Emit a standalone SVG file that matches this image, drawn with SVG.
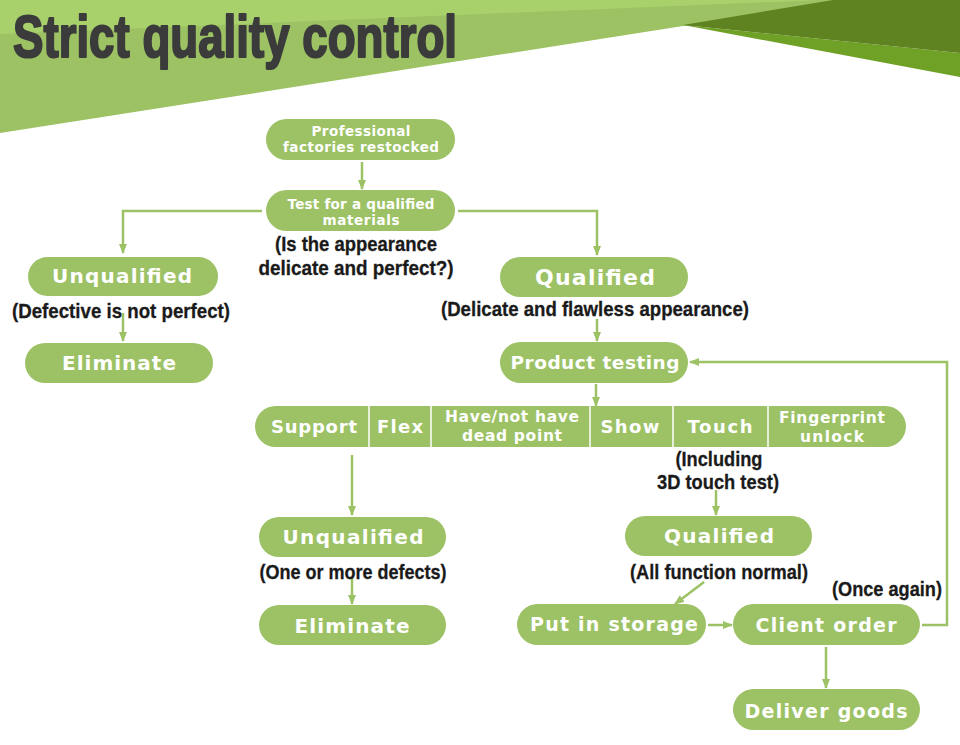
<svg xmlns="http://www.w3.org/2000/svg" width="960" height="745" viewBox="0 0 960 745">
<defs>
<style>
.pill{fill:#9cc265}
.wt{font-family:"DejaVu Sans","Liberation Sans",sans-serif;font-weight:bold;fill:#fff;text-anchor:middle}
.bk{font-family:"Liberation Sans",sans-serif;font-weight:bold;fill:#1a1a1a;text-anchor:middle;font-size:21px;stroke:#1a1a1a;stroke-width:0.3}
.ln{fill:none;stroke:#9cc265;stroke-width:2.5}
.sep{stroke:#ffffff;stroke-width:1.5}
</style>
<marker id="ah" viewBox="0 0 10 8" refX="9" refY="4" markerWidth="4" markerHeight="3.4" markerUnits="strokeWidth" orient="auto">
<path d="M0,0 L10,4 L0,8 Z" fill="#9cc265"/>
</marker>
</defs>
<rect width="960" height="745" fill="#ffffff"/>
<g id="header">
<polygon points="0,0 960,0 960,20 683,26 0,133" fill="#9cc263"/>
<polygon points="0,0 820,0 0,34" fill="#a8d16c"/>
<polygon points="683,25 960,53 960,77" fill="#6fa127"/>
<polygon points="683,25 833,0 960,0 960,53" fill="#5e8320"/>
<text x="13" y="57" font-family="Liberation Sans,sans-serif" font-weight="bold" font-size="60" fill="#3b3b3b" stroke="#3b3b3b" stroke-width="2.2" stroke-linejoin="round" textLength="444" lengthAdjust="spacingAndGlyphs">Strict quality control</text>
</g>
<g id="connectors">
<line class="ln" x1="362" y1="162" x2="362" y2="189" marker-end="url(#ah)"/>
<polyline class="ln" points="262,211 123,211 123,253" marker-end="url(#ah)"/>
<polyline class="ln" points="458,211 597,211 597,255" marker-end="url(#ah)"/>
<line class="ln" x1="123" y1="313" x2="123" y2="341" marker-end="url(#ah)"/>
<line class="ln" x1="597" y1="319" x2="597" y2="341" marker-end="url(#ah)"/>
<line class="ln" x1="596" y1="384" x2="596" y2="406" marker-end="url(#ah)"/>
<line class="ln" x1="352" y1="455" x2="352" y2="515" marker-end="url(#ah)"/>
<line class="ln" x1="352" y1="578" x2="352" y2="604" marker-end="url(#ah)"/>
<line class="ln" x1="716" y1="490" x2="716" y2="515" marker-end="url(#ah)"/>
<line class="ln" x1="704" y1="582" x2="675" y2="604" marker-end="url(#ah)"/>
<line class="ln" x1="708" y1="625" x2="732" y2="625" marker-end="url(#ah)"/>
<line class="ln" x1="826" y1="647" x2="826" y2="688" marker-end="url(#ah)"/>
<polyline class="ln" points="922,625 947,625 947,362 690,362" marker-end="url(#ah)"/>
</g>
<g id="n-restocked">
<rect class="pill" x="266" y="119" width="189" height="41" rx="20.5"/>
<text class="wt" x="361" y="136" font-size="13.5" textLength="99">Professional</text>
<text class="wt" x="361" y="152" font-size="13.5" textLength="156">factories restocked</text>
</g>
<g id="n-test">
<rect class="pill" x="266" y="190" width="189" height="41" rx="20.5"/>
<text class="wt" x="361" y="209" font-size="13.5" textLength="147">Test for a qualified</text>
<text class="wt" x="361" y="225" font-size="13.5" textLength="77">materials</text>
<text class="bk" x="356" y="251" textLength="162" lengthAdjust="spacingAndGlyphs">(Is the appearance</text>
<text class="bk" x="356" y="275" textLength="195" lengthAdjust="spacingAndGlyphs">delicate and perfect?)</text>
</g>
<g id="n-unqualified1">
<rect class="pill" x="28" y="257" width="190" height="39" rx="19.5"/>
<text class="wt" x="122" y="283" font-size="20" textLength="140">Unqualified</text>
<text class="bk" x="121" y="318" textLength="218" lengthAdjust="spacingAndGlyphs">(Defective is not perfect)</text>
</g>
<g id="n-eliminate1">
<rect class="pill" x="25" y="343" width="188" height="40" rx="20"/>
<text class="wt" x="119" y="370" font-size="20" textLength="114">Eliminate</text>
</g>
<g id="n-qualified1">
<rect class="pill" x="500" y="257" width="188" height="40" rx="20"/>
<text class="wt" x="595" y="285" font-size="22" textLength="120">Qualified</text>
<text class="bk" x="595" y="316" textLength="308" lengthAdjust="spacingAndGlyphs">(Delicate and flawless appearance)</text>
</g>
<g id="n-product-testing">
<rect class="pill" x="500" y="342" width="188" height="41" rx="20.5"/>
<text class="wt" x="595" y="369" font-size="18.5" textLength="169">Product testing</text>
</g>
<g id="n-tests">
<rect class="pill" x="255" y="406" width="651" height="41" rx="20.5"/>
<line class="sep" x1="369" y1="406" x2="369" y2="447"/>
<line class="sep" x1="431" y1="406" x2="431" y2="447"/>
<line class="sep" x1="590" y1="406" x2="590" y2="447"/>
<line class="sep" x1="673" y1="406" x2="673" y2="447"/>
<line class="sep" x1="768" y1="406" x2="768" y2="447"/>
<text class="wt" x="314" y="433" font-size="18" textLength="86">Support</text>
<text class="wt" x="400" y="433" font-size="18" textLength="46">Flex</text>
<text class="wt" x="512" y="422" font-size="15.5" textLength="134">Have/not have</text>
<text class="wt" x="512" y="441" font-size="15.5" textLength="100">dead point</text>
<text class="wt" x="630" y="433" font-size="18" textLength="59">Show</text>
<text class="wt" x="720" y="433" font-size="18" textLength="65">Touch</text>
<text class="wt" x="832" y="423" font-size="15.5" textLength="106">Fingerprint</text>
<text class="wt" x="832" y="442" font-size="15.5" textLength="64">unlock</text>
<text class="bk" x="719" y="466" textLength="87" lengthAdjust="spacingAndGlyphs">(Including</text>
<text class="bk" x="718" y="489" textLength="122" lengthAdjust="spacingAndGlyphs">3D touch test)</text>
</g>
<g id="n-unqualified2">
<rect class="pill" x="259" y="517" width="187" height="40" rx="20"/>
<text class="wt" x="353" y="544" font-size="20" textLength="141">Unqualified</text>
<text class="bk" x="353" y="579" textLength="187" lengthAdjust="spacingAndGlyphs">(One or more defects)</text>
</g>
<g id="n-eliminate2">
<rect class="pill" x="259" y="605" width="187" height="40" rx="20"/>
<text class="wt" x="352" y="633" font-size="20" textLength="115">Eliminate</text>
</g>
<g id="n-qualified2">
<rect class="pill" x="625" y="516" width="187" height="40" rx="20"/>
<text class="wt" x="719" y="543" font-size="20" textLength="110">Qualified</text>
<text class="bk" x="719" y="579" textLength="178" lengthAdjust="spacingAndGlyphs">(All function normal)</text>
</g>
<g id="n-storage">
<rect class="pill" x="517" y="604" width="189" height="41" rx="20.5"/>
<text class="wt" x="614" y="631" font-size="19" textLength="168">Put in storage</text>
</g>
<g id="n-client-order">
<rect class="pill" x="733" y="604" width="187" height="41" rx="20.5"/>
<text class="wt" x="826" y="632" font-size="19" textLength="141">Client order</text>
<text class="bk" x="887" y="596" textLength="110" lengthAdjust="spacingAndGlyphs">(Once again)</text>
</g>
<g id="n-deliver">
<rect class="pill" x="733" y="689" width="187" height="41" rx="20.5"/>
<text class="wt" x="826" y="718" font-size="19" textLength="163">Deliver goods</text>
</g>
</svg>
